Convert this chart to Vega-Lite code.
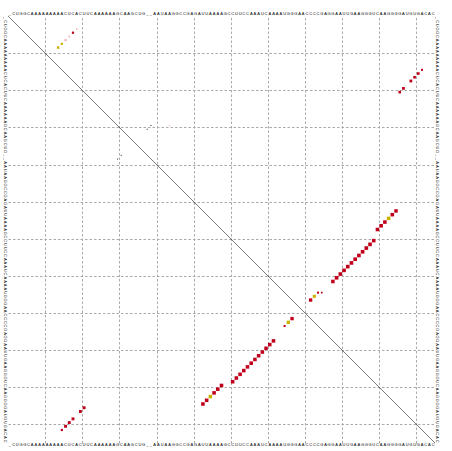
{
  "$schema": "https://vega.github.io/schema/vega-lite/v6.json",
  "width": 427,
  "height": 427,
  "autosize": "none",
  "padding": {"left": 8, "top": 16, "right": 17, "bottom": 8},
  "background": "white",
  "view": {"stroke": null},
  "config": {"axis": {"labels": false, "ticks": false, "domain": false, "title": null, "grid": true, "gridColor": "#aaaaaa", "gridDash": [2.5, 2], "gridWidth": 1}},
  "datasets": {
    "seq": [
      {"k":1,"nt":"_"},{"k":2,"nt":"C"},{"k":3,"nt":"U"},{"k":4,"nt":"G"},{"k":5,"nt":"G"},{"k":6,"nt":"C"},{"k":7,"nt":"A"},{"k":8,"nt":"A"},{"k":9,"nt":"A"},{"k":10,"nt":"A"},
      {"k":11,"nt":"A"},{"k":12,"nt":"A"},{"k":13,"nt":"A"},{"k":14,"nt":"A"},{"k":15,"nt":"A"},{"k":16,"nt":"C"},{"k":17,"nt":"U"},{"k":18,"nt":"C"},{"k":19,"nt":"A"},{"k":20,"nt":"C"},
      {"k":21,"nt":"U"},{"k":22,"nt":"U"},{"k":23,"nt":"C"},{"k":24,"nt":"A"},{"k":25,"nt":"A"},{"k":26,"nt":"A"},{"k":27,"nt":"A"},{"k":28,"nt":"A"},{"k":29,"nt":"A"},{"k":30,"nt":"G"},
      {"k":31,"nt":"C"},{"k":32,"nt":"A"},{"k":33,"nt":"A"},{"k":34,"nt":"G"},{"k":35,"nt":"C"},{"k":36,"nt":"U"},{"k":37,"nt":"G"},{"k":38,"nt":"_"},{"k":39,"nt":"_"},{"k":40,"nt":"A"},
      {"k":41,"nt":"A"},{"k":42,"nt":"U"},{"k":43,"nt":"A"},{"k":44,"nt":"A"},{"k":45,"nt":"G"},{"k":46,"nt":"G"},{"k":47,"nt":"C"},{"k":48,"nt":"C"},{"k":49,"nt":"G"},{"k":50,"nt":"A"},
      {"k":51,"nt":"G"},{"k":52,"nt":"A"},{"k":53,"nt":"U"},{"k":54,"nt":"U"},{"k":55,"nt":"A"},{"k":56,"nt":"A"},{"k":57,"nt":"A"},{"k":58,"nt":"A"},{"k":59,"nt":"G"},{"k":60,"nt":"C"},
      {"k":61,"nt":"C"},{"k":62,"nt":"U"},{"k":63,"nt":"U"},{"k":64,"nt":"C"},{"k":65,"nt":"C"},{"k":66,"nt":"A"},{"k":67,"nt":"A"},{"k":68,"nt":"A"},{"k":69,"nt":"U"},{"k":70,"nt":"C"},
      {"k":71,"nt":"A"},{"k":72,"nt":"A"},{"k":73,"nt":"A"},{"k":74,"nt":"A"},{"k":75,"nt":"U"},{"k":76,"nt":"G"},{"k":77,"nt":"G"},{"k":78,"nt":"G"},{"k":79,"nt":"A"},{"k":80,"nt":"A"},
      {"k":81,"nt":"C"},{"k":82,"nt":"C"},{"k":83,"nt":"C"},{"k":84,"nt":"C"},{"k":85,"nt":"G"},{"k":86,"nt":"A"},{"k":87,"nt":"G"},{"k":88,"nt":"G"},{"k":89,"nt":"A"},{"k":90,"nt":"A"},
      {"k":91,"nt":"U"},{"k":92,"nt":"U"},{"k":93,"nt":"G"},{"k":94,"nt":"A"},{"k":95,"nt":"A"},{"k":96,"nt":"G"},{"k":97,"nt":"G"},{"k":98,"nt":"G"},{"k":99,"nt":"U"},{"k":100,"nt":"C"},
      {"k":101,"nt":"A"},{"k":102,"nt":"A"},{"k":103,"nt":"G"},{"k":104,"nt":"G"},{"k":105,"nt":"G"},{"k":106,"nt":"G"},{"k":107,"nt":"A"},{"k":108,"nt":"U"},{"k":109,"nt":"G"},{"k":110,"nt":"U"},
      {"k":111,"nt":"G"},{"k":112,"nt":"A"},{"k":113,"nt":"C"},{"k":114,"nt":"A"},{"k":115,"nt":"C"}
    ],
    "pairs": [
      {"i":4,"j":19,"p":0.15,"c":"pale","part":"prob"},
      {"i":5,"j":18,"p":0.35,"c":"red","part":"prob"},
      {"i":6,"j":17,"p":0.2,"c":"pale","part":"prob"},
      {"i":7,"j":16,"p":0.3,"c":"pale","part":"prob"},
      {"i":8,"j":15,"p":0.35,"c":"ochre","part":"prob"},
      {"i":9,"j":14,"p":0.45,"c":"ochre","part":"prob"},
      {"i":15,"j":112,"p":0.3,"c":"red","part":"prob"},
      {"i":16,"j":111,"p":0.5,"c":"red","part":"prob"},
      {"i":17,"j":110,"p":0.5,"c":"red","part":"prob"},
      {"i":18,"j":109,"p":0.55,"c":"red","part":"prob"},
      {"i":20,"j":107,"p":0.55,"c":"red","part":"prob"},
      {"i":21,"j":106,"p":0.5,"c":"red","part":"prob"},
      {"i":30,"j":39,"p":0.08,"c":"dark","part":"prob"},
      {"i":31,"j":38,"p":0.08,"c":"dark","part":"prob"},
      {"i":30,"j":44,"p":0.08,"c":"pale","part":"prob"},
      {"i":53,"j":105,"p":0.85,"c":"red","part":"prob"},
      {"i":54,"j":104,"p":0.9,"c":"red","part":"prob"},
      {"i":55,"j":103,"p":0.9,"c":"ochre","part":"prob"},
      {"i":56,"j":102,"p":0.9,"c":"red","part":"prob"},
      {"i":57,"j":101,"p":0.9,"c":"red","part":"prob"},
      {"i":58,"j":100,"p":0.9,"c":"red","part":"prob"},
      {"i":61,"j":99,"p":0.9,"c":"red","part":"prob"},
      {"i":62,"j":98,"p":0.95,"c":"red","part":"prob"},
      {"i":63,"j":97,"p":0.95,"c":"red","part":"prob"},
      {"i":64,"j":96,"p":0.95,"c":"red","part":"prob"},
      {"i":65,"j":95,"p":0.95,"c":"red","part":"prob"},
      {"i":66,"j":94,"p":0.95,"c":"red","part":"prob"},
      {"i":67,"j":93,"p":0.95,"c":"red","part":"prob"},
      {"i":68,"j":92,"p":0.95,"c":"red","part":"prob"},
      {"i":69,"j":91,"p":0.95,"c":"red","part":"prob"},
      {"i":70,"j":90,"p":0.95,"c":"red","part":"prob"},
      {"i":71,"j":89,"p":0.95,"c":"red","part":"prob"},
      {"i":72,"j":88,"p":0.9,"c":"red","part":"prob"},
      {"i":75,"j":84,"p":0.3,"c":"red","part":"prob"},
      {"i":75,"j":85,"p":0.2,"c":"red","part":"prob"},
      {"i":76,"j":83,"p":0.7,"c":"ochre","part":"prob"},
      {"i":77,"j":82,"p":0.8,"c":"red","part":"prob"},
      {"i":15,"j":112,"p":0.35,"c":"red","part":"mfe"},
      {"i":16,"j":111,"p":0.6,"c":"red","part":"mfe"},
      {"i":17,"j":110,"p":0.6,"c":"red","part":"mfe"},
      {"i":18,"j":109,"p":0.6,"c":"red","part":"mfe"},
      {"i":20,"j":107,"p":0.6,"c":"red","part":"mfe"},
      {"i":21,"j":106,"p":0.6,"c":"red","part":"mfe"},
      {"i":30,"j":39,"p":0.08,"c":"dark","part":"mfe"},
      {"i":31,"j":38,"p":0.08,"c":"dark","part":"mfe"},
      {"i":53,"j":105,"p":0.9,"c":"red","part":"mfe"},
      {"i":54,"j":104,"p":0.9,"c":"red","part":"mfe"},
      {"i":55,"j":103,"p":0.9,"c":"ochre","part":"mfe"},
      {"i":56,"j":102,"p":0.9,"c":"red","part":"mfe"},
      {"i":57,"j":101,"p":0.9,"c":"red","part":"mfe"},
      {"i":58,"j":100,"p":0.9,"c":"red","part":"mfe"},
      {"i":61,"j":99,"p":0.9,"c":"red","part":"mfe"},
      {"i":62,"j":98,"p":0.9,"c":"red","part":"mfe"},
      {"i":63,"j":97,"p":0.9,"c":"red","part":"mfe"},
      {"i":64,"j":96,"p":0.9,"c":"red","part":"mfe"},
      {"i":65,"j":95,"p":0.9,"c":"red","part":"mfe"},
      {"i":66,"j":94,"p":0.9,"c":"red","part":"mfe"},
      {"i":67,"j":93,"p":0.9,"c":"red","part":"mfe"},
      {"i":68,"j":92,"p":0.9,"c":"red","part":"mfe"},
      {"i":69,"j":91,"p":0.9,"c":"red","part":"mfe"},
      {"i":70,"j":90,"p":0.9,"c":"red","part":"mfe"},
      {"i":71,"j":89,"p":0.9,"c":"red","part":"mfe"},
      {"i":72,"j":88,"p":0.9,"c":"red","part":"mfe"},
      {"i":75,"j":84,"p":0.3,"c":"red","part":"mfe"},
      {"i":76,"j":83,"p":0.8,"c":"ochre","part":"mfe"},
      {"i":77,"j":82,"p":0.8,"c":"red","part":"mfe"}
    ]
  },
  "encoding": {
    "x": {"type": "quantitative", "scale": {"domain": [0.5, 115.5], "nice": false, "zero": false}, "axis": {"values": [10.5, 20.5, 30.5, 40.5, 50.5, 60.5, 70.5, 80.5, 90.5, 100.5, 110.5]}},
    "y": {"type": "quantitative", "scale": {"domain": [0.5, 115.5], "nice": false, "zero": false, "reverse": true}, "axis": {"values": [10.5, 20.5, 30.5, 40.5, 50.5, 60.5, 70.5, 80.5, 90.5, 100.5, 110.5]}}
  },
  "layer": [
    {
      "data": {"values": [{}]},
      "mark": {"type": "rule", "color": "#222222", "strokeWidth": 0.6},
      "encoding": {"x": {"datum": 0.5, "type": "quantitative"}, "y": {"datum": 0.5, "type": "quantitative"}, "x2": {"datum": 115.5}, "y2": {"datum": 115.5}}
    },
    {
      "data": {"name": "pairs"},
      "transform": [{"filter": "datum.part == 'prob'"}],
      "mark": {"type": "square", "filled": true, "opacity": 1},
      "encoding": {
        "x": {"field": "j", "type": "quantitative"},
        "y": {"field": "i", "type": "quantitative"},
        "size": {"field": "p", "type": "quantitative", "scale": {"domain": [0, 1], "range": [0, 14]}, "legend": null},
        "color": {"field": "c", "type": "nominal", "scale": {"domain": ["red", "ochre", "pale", "dark"], "range": ["#c0001a", "#c8b400", "#f2a8a8", "#333333"]}, "legend": null}
      }
    },
    {
      "data": {"name": "pairs"},
      "transform": [{"filter": "datum.part == 'mfe'"}],
      "mark": {"type": "square", "filled": true, "opacity": 1},
      "encoding": {
        "x": {"field": "i", "type": "quantitative"},
        "y": {"field": "j", "type": "quantitative"},
        "size": {"field": "p", "type": "quantitative", "scale": {"domain": [0, 1], "range": [0, 14]}, "legend": null},
        "color": {"field": "c", "type": "nominal", "scale": {"domain": ["red", "ochre", "pale", "dark"], "range": ["#c0001a", "#c8b400", "#f2a8a8", "#333333"]}, "legend": null}
      }
    },
    {
      "data": {"name": "seq"},
      "mark": {"type": "text", "font": "Liberation Sans", "fontSize": 4, "align": "center", "baseline": "alphabetic", "color": "black"},
      "encoding": {"x": {"field": "k", "type": "quantitative"}, "y": {"datum": 0.3, "type": "quantitative"}, "text": {"field": "nt"}}
    },
    {
      "data": {"name": "seq"},
      "mark": {"type": "text", "font": "Liberation Sans", "fontSize": 4, "align": "center", "baseline": "alphabetic", "color": "black"},
      "encoding": {"x": {"field": "k", "type": "quantitative"}, "y": {"datum": 116.3, "type": "quantitative"}, "text": {"field": "nt"}}
    },
    {
      "data": {"name": "seq"},
      "mark": {"type": "text", "font": "Liberation Sans", "fontSize": 4, "align": "center", "baseline": "alphabetic", "angle": 90, "color": "black"},
      "encoding": {"y": {"field": "k", "type": "quantitative"}, "x": {"datum": -0.6, "type": "quantitative"}, "text": {"field": "nt"}}
    },
    {
      "data": {"name": "seq"},
      "mark": {"type": "text", "font": "Liberation Sans", "fontSize": 4, "align": "center", "baseline": "alphabetic", "angle": 90, "color": "black"},
      "encoding": {"y": {"field": "k", "type": "quantitative"}, "x": {"datum": 115.7, "type": "quantitative"}, "text": {"field": "nt"}}
    }
  ]
}
